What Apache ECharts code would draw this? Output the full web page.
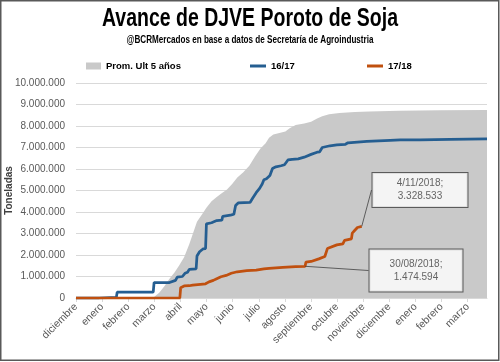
<!DOCTYPE html>
<html><head><meta charset="utf-8">
<script src="https://cdn.jsdelivr.net/npm/echarts@6/dist/echarts.min.js"></script>
<style>html,body{margin:0;padding:0;background:#fff}#c{width:500px;height:362px}</style>
</head><body><div id="c"></div>
<script>
const monthNames = ['enero','febrero','marzo','abril','mayo','junio','julio','agosto','septiembre','octubre','noviembre','diciembre'];
const axisStart = '2017-12-06';
const axisEnd = '2019-03-30';
const tickCount = 16;
const yMax = 10000000;
const yStep = 1000000;
const titleText = 'Avance de DJVE Poroto de Soja';
const subtitleText = '@BCRMercados en base a datos de Secretaría de Agroindustria';

const promDates = ['2017-12-06','2018-01-02','2018-02-06','2018-03-01','2018-03-07','2018-03-13','2018-03-19','2018-03-25','2018-03-31','2018-04-05','2018-04-11','2018-04-17','2018-04-23','2018-04-26','2018-05-02','2018-05-07','2018-05-13','2018-05-19','2018-05-24','2018-05-31','2018-06-06','2018-06-12','2018-06-19','2018-06-26','2018-07-03','2018-07-09','2018-07-15','2018-07-19','2018-07-24','2018-07-31','2018-08-07','2018-08-12','2018-08-19','2018-08-29','2018-09-06','2018-09-13','2018-09-19','2018-09-27','2018-10-09','2018-10-27','2018-11-13','2018-12-18','2019-02-03','2019-03-30'];
const promValues = [0,20000,30000,40000,50000,250000,550000,900000,1200000,1500000,1900000,2500000,3200000,3550000,3900000,4200000,4500000,4700000,4850000,5050000,5300000,5600000,5850000,6150000,6600000,6950000,7200000,7450000,7600000,7680000,7750000,7900000,8050000,8120000,8200000,8350000,8450000,8550000,8600000,8650000,8680000,8710000,8730000,8740000];

const c1617Dates = ['2017-12-06','2018-01-02','2018-01-03','2018-01-22','2018-01-23','2018-03-06','2018-03-07','2018-03-25','2018-03-26','2018-04-01','2018-04-03','2018-04-09','2018-04-12','2018-04-15','2018-04-17','2018-04-25','2018-04-26','2018-04-29','2018-05-03','2018-05-06','2018-05-07','2018-05-13','2018-05-19','2018-05-25','2018-05-26','2018-06-04','2018-06-08','2018-06-10','2018-06-13','2018-06-27','2018-06-30','2018-07-04','2018-07-08','2018-07-11','2018-07-13','2018-07-16','2018-07-20','2018-07-23','2018-07-27','2018-08-02','2018-08-06','2018-08-10','2018-08-15','2018-08-22','2018-08-29','2018-09-06','2018-09-13','2018-09-16','2018-09-19','2018-09-28','2018-10-06','2018-10-16','2018-10-19','2018-11-10','2018-12-07','2018-12-19','2019-01-11','2019-02-15','2019-03-30'];
const c1617Values = [0,0,30000,30000,270000,270000,720000,720000,800000,820000,970000,1000000,1150000,1200000,1330000,1360000,1950000,2150000,2280000,2300000,3450000,3500000,3600000,3620000,3800000,3850000,3900000,4300000,4420000,4450000,4650000,4900000,5100000,5300000,5500000,5550000,5700000,6020000,6100000,6150000,6200000,6420000,6450000,6470000,6550000,6680000,6780000,6800000,7000000,7080000,7120000,7150000,7220000,7280000,7330000,7350000,7360000,7380000,7400000];

const c1718Dates = ['2017-12-06','2018-04-06','2018-04-07','2018-04-11','2018-04-17','2018-04-21','2018-04-23','2018-05-06','2018-05-10','2018-05-15','2018-05-19','2018-05-24','2018-05-30','2018-06-05','2018-06-12','2018-06-23','2018-07-04','2018-07-13','2018-07-19','2018-08-04','2018-08-19','2018-08-30','2018-08-31','2018-09-06','2018-09-08','2018-09-15','2018-09-17','2018-09-22','2018-09-24','2018-09-25','2018-09-27','2018-10-06','2018-10-13','2018-10-15','2018-10-23','2018-10-24','2018-10-27','2018-10-30','2018-11-04'];
const c1718Values = [0,0,480000,560000,570000,600000,650000,660000,750000,820000,900000,990000,1050000,1150000,1220000,1270000,1300000,1350000,1380000,1430000,1460000,1474594,1670000,1700000,1780000,1820000,1900000,1930000,2000000,2300000,2380000,2470000,2520000,2680000,2750000,3020000,3150000,3280000,3328533];

const annotDates = ['2018-11-04','2018-08-30'];

const DAY = 86400000;
const t0 = Date.parse(axisStart + 'T00:00:00Z');
const dayIdx = s => (Date.parse(s + 'T00:00:00Z') - t0) / DAY;
const monthStep = 365.25 / 12;
const fmtNum = v => Math.round(v).toString().replace(/\B(?=(\d{3})+(?!\d))/g, '.');
const fmtDate = s => { const p = s.split('-'); return parseInt(p[2], 10) + '/' + p[1] + '/' + p[0]; };
const monthOf = v => monthNames[new Date(t0 + Math.round(v) * DAY).getUTCMonth()];
const pairs = (ds, vs) => ds.map((d, i) => [dayIdx(d), vs[i]]);
const tickVals = Array.from({length: tickCount}, (_, k) => k * monthStep);

const F = 'Liberation Sans, Arial, sans-serif';
const cGray = '#c9c9c9', cBlue = '#255e91', cRed = '#c0500f';

// condensed-looking headings: scale a bold face horizontally to the reference width
const mctx = document.createElement('canvas').getContext('2d');
const fitScale = (text, font, target) => { mctx.font = font; return target / mctx.measureText(text).width; };
const titleFont = 'bold 25px "Liberation Sans", Arial, sans-serif';
const subFont = 'bold 10.6px "Liberation Sans", Arial, sans-serif';
const titleScale = fitScale(titleText, titleFont, 296);
const subScale = fitScale(subtitleText, subFont, 247);

const annotBoxes = [
  {x: 420, y: 190, pad: [4, 0], w: 95},
  {x: 416, y: 270.5, pad: [8, 0], w: 93}
];
const annotData = annotDates.map((d, i) => {
  const idx = c1718Dates.indexOf(d);
  return {
    value: [dayIdx(d), c1718Values[idx], d],
    label: {padding: annotBoxes[i].pad, width: annotBoxes[i].w}
  };
});

const chart = echarts.init(document.getElementById('c'), null, {renderer: 'canvas'});
chart.setOption({
  animation: false,
  backgroundColor: '#fff',
  legend: [
    {data: ['Prom. Ult 5 años'], left: 81, top: 56, icon: 'rect', itemWidth: 15, itemHeight: 7,
     textStyle: {fontFamily: F, fontWeight: 'bold', fontSize: 9.5, color: '#000'}},
    {data: ['16/17'], left: 245, top: 56, icon: 'rect', itemWidth: 16, itemHeight: 3,
     textStyle: {fontFamily: F, fontWeight: 'bold', fontSize: 9.5, color: '#000'}},
    {data: ['17/18'], left: 362, top: 56, icon: 'rect', itemWidth: 16, itemHeight: 3,
     textStyle: {fontFamily: F, fontWeight: 'bold', fontSize: 9.5, color: '#000'}}
  ],
  grid: {left: 76, right: 13, top: 83, bottom: 64, containLabel: false, outerBoundsMode: 'none'},
  xAxis: {
    type: 'value', min: 0, max: dayIdx(axisEnd), interval: monthStep,
    splitLine: {show: false},
    axisLine: {show: true, lineStyle: {color: '#d9d9d9', width: 1}},
    axisTick: {show: true, length: 4, lineStyle: {color: '#d9d9d9'}, customValues: tickVals},
    axisLabel: {rotate: 45, margin: 7, fontFamily: F, fontSize: 10.5, color: '#595959',
      customValues: tickVals, formatter: v => monthOf(v)}
  },
  yAxis: {
    type: 'value', min: 0, max: yMax, interval: yStep,
    name: 'Toneladas', nameLocation: 'middle', nameGap: 62, nameRotate: 90, nameMoveOverlap: false,
    nameTextStyle: {fontFamily: F, fontWeight: 'bold', fontSize: 10, color: '#404040'},
    axisLine: {show: false}, axisTick: {show: false},
    splitLine: {lineStyle: {color: '#d9d9d9', width: 1}},
    axisLabel: {fontFamily: F, fontSize: 10, color: '#595959', margin: 11, formatter: v => fmtNum(v)}
  },
  series: [
    {name: 'Prom. Ult 5 años', type: 'line', data: pairs(promDates, promValues),
     showSymbol: false, symbol: 'none', lineStyle: {width: 0}, itemStyle: {color: cGray},
     areaStyle: {color: cGray, opacity: 1}, z: 1, silent: true},
    {name: '16/17', type: 'line', data: pairs(c1617Dates, c1617Values),
     showSymbol: false, symbol: 'none', lineStyle: {width: 2.75, color: cBlue}, itemStyle: {color: cBlue}, z: 3},
    {name: '17/18', type: 'line', data: pairs(c1718Dates, c1718Values),
     showSymbol: false, symbol: 'none', lineStyle: {width: 2.75, color: cRed}, itemStyle: {color: cRed}, z: 4},
    {name: 'annot', type: 'scatter', data: annotData, symbolSize: 0.1, itemStyle: {color: 'rgba(0,0,0,0)'}, z: 10,
     label: {show: true, fontFamily: F, fontSize: 10, color: '#404040', lineHeight: 13,
       backgroundColor: '#fff', borderColor: '#404040', borderWidth: 1, align: 'center',
       formatter: p => fmtDate(p.value[2]) + ';\n' + fmtNum(p.value[1])},
     labelLine: {show: true, lineStyle: {color: '#404040', width: 0.8}},
     labelLayout: p => ({x: annotBoxes[p.dataIndex].x, y: annotBoxes[p.dataIndex].y, align: 'center', verticalAlign: 'middle'})}
  ],
  graphic: [
    {type: 'text', x: 250, y: 7, scaleX: titleScale, z: 50,
     style: {text: titleText, font: titleFont, fill: '#000', align: 'center', verticalAlign: 'top'}},
    {type: 'text', x: 250, y: 34.5, scaleX: subScale, z: 50,
     style: {text: subtitleText, font: subFont, fill: '#000', align: 'center', verticalAlign: 'top'}},
    {type: 'rect', shape: {x: 0.75, y: 0.75, width: 498, height: 359.5},
     style: {fill: 'none', stroke: '#595959', lineWidth: 1.5}, z: 100, silent: true}
  ]
});
</script>
</body></html>
